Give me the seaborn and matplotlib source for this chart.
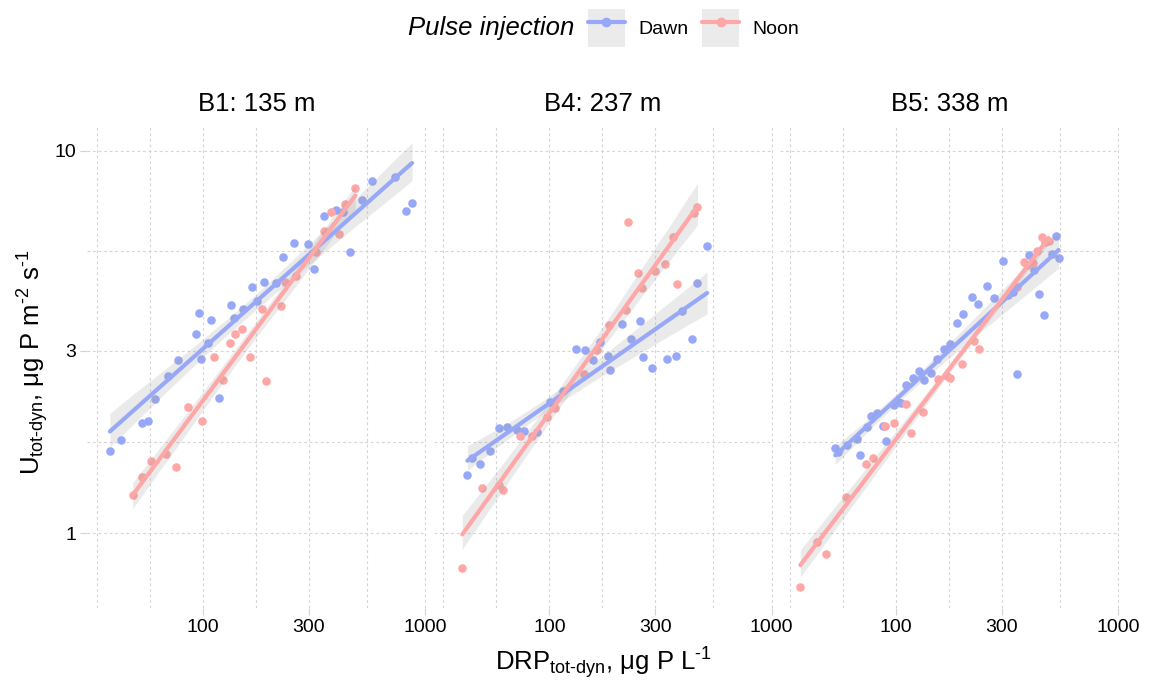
import numpy as np
import pandas as pd
import matplotlib

matplotlib.use("Agg")
import matplotlib.pyplot as plt
from matplotlib.lines import Line2D
from matplotlib.patches import Patch
from matplotlib.collections import PolyCollection
import seaborn as sns

# values (DRP in ug P/L, U in ug P m-2 s-1)
b1_dawn_x = [38.2, 42.7, 53.1, 56.5, 60.8, 69.6, 77.2, 93.0, 95.9, 97.9, 106, 108.6, 118.8, 134.1, 138.4, 152.3, 167.3,
             175.1, 188.3, 213.2, 230, 257.8, 296, 317.2, 350.8, 395.6, 425.5, 457.2, 522, 578.9, 729.5, 821, 873.7]
b1_dawn_y = [1.64, 1.75, 1.94, 1.96, 2.24, 2.58, 2.84, 3.31, 3.77, 2.86, 3.14, 3.61, 2.26, 3.96, 3.66, 3.86, 4.40,
             4.06, 4.54, 4.50, 5.28, 5.74, 5.71, 4.90, 6.75, 7.01, 6.94, 5.43, 7.44, 8.33, 8.55, 6.98, 7.30]
b1_noon_x = [48.4, 53.1, 58.5, 68.4, 75.8, 85.6, 99.3, 112.8, 123.8, 132.7, 139.8, 150.8, 163.8, 185, 192.2, 223.7,
             234.8, 262.4, 321.5, 351.9, 377.3, 408.2, 437.5, 485.3]
b1_noon_y = [1.26, 1.40, 1.54, 1.61, 1.49, 2.14, 1.96, 2.89, 2.52, 3.15, 3.31, 3.42, 2.89, 3.87, 2.50, 3.94,
             4.54, 4.71, 5.45, 6.19, 6.91, 6.08, 7.27, 7.99]

b4_dawn_x = [42.8, 44.7, 48.8, 54.3, 59.4, 64.7, 71.7, 76.8, 88.4, 100.7, 115.2, 132.1, 144.9, 158, 168.6, 184.4,
             186.9, 213, 232, 257, 265.2, 291, 339.6, 369.8, 396.2, 437.8, 462.4, 512.7]
b4_dawn_y = [1.42, 1.57, 1.52, 1.64, 1.88, 1.90, 1.86, 1.85, 1.84, 2.20, 2.35, 3.03, 3.01, 2.83, 3.16, 2.91,
             2.68, 3.53, 3.23, 3.59, 2.89, 2.70, 2.85, 2.91, 3.82, 3.23, 4.52, 5.65]
b4_noon_x = [40.6, 50.0, 59.1, 61.6, 73.7, 83.4, 97.4, 106.4, 142.5, 164.6, 186.3, 221, 224.9, 250, 262.4, 300.1,
             332.6, 361.2, 376.4, 449.8, 463.8]
b4_noon_y = [0.811, 1.31, 1.34, 1.30, 1.80, 1.79, 2.01, 2.12, 2.61, 3.01, 3.50, 3.84, 6.51, 4.79, 4.37, 4.84,
             5.07, 5.97, 4.49, 6.87, 7.15]

b5_dawn_x = [53.4, 54.9, 60.2, 67.0, 68.9, 74.3, 77.2, 82.2, 88.0, 90.5, 98.6, 102.7, 105.3, 111.2, 119.2, 126.8,
             133.6, 143.6, 153.3, 164.3, 175.4, 189.1, 200, 220.9, 235, 256.4, 277.3, 302.5, 318.5, 335.5, 350.8,
             398.3, 419.5, 440.4, 462.4, 503.6, 524.8, 539.8]
b5_dawn_y = [1.67, 1.63, 1.70, 1.76, 1.60, 1.89, 2.02, 2.06, 1.91, 1.74, 2.16, 2.21, 2.19, 2.44, 2.54, 2.66,
             2.52, 2.62, 2.85, 3.04, 3.12, 3.54, 3.74, 4.15, 3.97, 4.43, 4.13, 5.16, 4.20, 4.27, 2.61,
             5.34, 4.88, 4.23, 3.72, 5.36, 6.00, 5.25]
b5_noon_x = [37.2, 44.3, 48.6, 59.8, 73.3, 79.1, 89.2, 98, 110.9, 117.5, 133, 155.4, 169.5, 174.8, 198, 224.8,
             236, 349.7, 377, 390, 412.6, 432.6, 455.6, 469.9, 486.7]
b5_noon_y = [0.724, 0.945, 0.88, 1.24, 1.52, 1.57, 1.91, 1.94, 2.18, 1.83, 2.08, 2.53, 2.58, 2.55, 2.77, 3.18,
             3.03, 4.40, 5.12, 5.04, 5.10, 5.47, 5.94, 5.77, 5.81]

sites = ["B1: 135 m", "B4: 237 m", "B5: 338 m"]
groups = ["Dawn", "Noon"]
palette = {"Dawn": "#98a8f8", "Noon": "#ffa6a6"}
x_ticks = [100, 300, 1000]
y_ticks = [1, 3, 10]

series = {
    (sites[0], "Dawn"): (b1_dawn_x, b1_dawn_y),
    (sites[0], "Noon"): (b1_noon_x, b1_noon_y),
    (sites[1], "Dawn"): (b4_dawn_x, b4_dawn_y),
    (sites[1], "Noon"): (b4_noon_x, b4_noon_y),
    (sites[2], "Dawn"): (b5_dawn_x, b5_dawn_y),
    (sites[2], "Noon"): (b5_noon_x, b5_noon_y),
}
df = pd.concat(
    [pd.DataFrame({"site": s, "pulse": g, "drp": x, "u": y}) for (s, g), (x, y) in series.items()],
    ignore_index=True,
)
# fit on log-log scale
df["log_drp"] = np.log10(df["drp"])
df["log_u"] = np.log10(df["u"])

sns.set_style("white")
plt.rcParams["font.family"] = ["Liberation Sans", "DejaVu Sans"]
plt.rcParams["mathtext.fontset"] = "custom"
plt.rcParams["mathtext.rm"] = "Liberation Sans"
plt.rcParams["mathtext.it"] = "Liberation Sans:italic"
plt.rcParams["text.color"] = "black"

fig = plt.figure(figsize=(11.49, 6.82), dpi=100)
W, H = 1149, 682
left0, pitch, width = 87, 346.5, 339
top, bottom = 125, 608

xlog_major = np.log10(x_ticks)
ylog_major = np.log10(y_ticks)
bd = np.log10(3)
x_minor = [2 - bd, 2 - bd / 2, 2 + bd / 2, xlog_major[1] + (3 - xlog_major[1]) / 2]
y_minor = [bd / 2, ylog_major[1] + (1 - ylog_major[1]) / 2]

grid_kw = dict(color="#d4d4d4", linestyle=(0, (2.5, 2.5)), linewidth=0.8)

for i, site in enumerate(sites):
    ax = fig.add_axes([(left0 + i * pitch) / W, 1 - bottom / H, width / W, (bottom - top) / H])
    sub = df[df["site"] == site]
    for g in groups:
        d = sub[sub["pulse"] == g]
        sns.regplot(
            data=d, x="log_drp", y="log_u", ax=ax, color=palette[g], ci=95, seed=1,
            scatter_kws=dict(s=38, alpha=1, linewidths=0, zorder=2),
            line_kws=dict(linewidth=3, zorder=4),
        )
    for coll in ax.collections:
        if isinstance(coll, PolyCollection):
            coll.set_facecolor("#999999")
            coll.set_alpha(0.2)
            coll.set_linewidth(0)
            coll.set_zorder(3)
    ax.set_xticks(xlog_major)
    ax.set_xticklabels([str(t) for t in x_ticks])
    ax.set_xticks(x_minor, minor=True)
    ax.set_yticks(ylog_major)
    ax.set_yticks(y_minor, minor=True)
    # limits after the ticks so they are not widened
    ax.set_xlim(1.479, 3.004)
    ax.set_ylim(-0.196, 1.068)
    if i == 0:
        ax.set_yticklabels([str(t) for t in y_ticks])
    else:
        ax.set_yticklabels([])
    ax.grid(True, which="both", **grid_kw)
    ax.set_axisbelow(True)
    for sp in ax.spines.values():
        sp.set_visible(False)
    ax.tick_params(which="major", length=5, width=0.8, color="#d4d4d4", labelsize=14, pad=3,
                   labelcolor="black", bottom=True, left=(i == 0))
    ax.tick_params(which="minor", length=0)
    ax.set_xlabel("")
    ax.set_ylabel("")
    ax.set_title(site, fontsize=18.5, pad=10, color="black")

fig.text(0.525, 1 - 663 / H, r"DRP$_{\mathrm{tot\text{-}dyn}}$, μg P L$^{\text{-1}}$",
         ha="center", va="center", fontsize=18.5)
fig.text(33 / W, 1 - 362 / H, r"U$_{\mathrm{tot\text{-}dyn}}$, μg P m$^{\text{-2}}$ s$^{\text{-1}}$",
         ha="center", va="center", rotation=90, fontsize=18.5)

# legend on top: italic title on the left, square keys with grey band
fig.text(408 / W, 1 - 28 / H, "Pulse injection", style="italic", fontsize=18.5, ha="left", va="center")
handles = [
    (Patch(facecolor="#ebebeb", edgecolor="none"),
     Line2D([], [], color=palette[g], lw=3, marker="o", markersize=6))
    for g in groups
]
fig.legend(
    handles, groups, loc="center left", bbox_to_anchor=(588 / W, 1 - 28 / H), ncol=2,
    frameon=False, fontsize=14, handlelength=1.9, handleheight=2.6, handletextpad=0.7,
    columnspacing=0.7, borderpad=0, borderaxespad=0,
)

fig.savefig("out.png", dpi=100)
